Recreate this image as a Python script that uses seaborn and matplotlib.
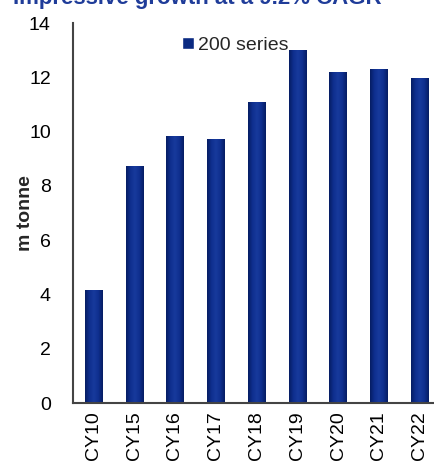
import numpy as np
import pandas as pd
import matplotlib
matplotlib.use("Agg")
import matplotlib.pyplot as plt
import seaborn as sns
from matplotlib.colors import LinearSegmentedColormap

years = ["CY10", "CY15", "CY16", "CY17", "CY18", "CY19", "CY20", "CY21", "CY22"]
volume = [4.15, 8.75, 9.82, 9.72, 11.08, 13.0, 12.18, 12.3, 11.98]
series_name = "200 series"
title_text = "Impressive growth at a 9.2% CAGR"
ylabel_text = "m tonne"
yticks = [0, 2, 4, 6, 8, 10, 12, 14]

sns.set_theme(style="white")
plt.rcParams["font.family"] = ["Liberation Sans", "DejaVu Sans"]

W, H = 434, 468
fig = plt.figure(figsize=(W / 100, H / 100), dpi=100)
ax = fig.add_axes([73 / W, 1 - 403 / H, (440 - 73) / W, (403 - 23) / H])

df = pd.DataFrame({"year": years, "volume": volume, "series": series_name})
navy = "#0B2A82"
sns.barplot(data=df, x="year", y="volume", hue="series", palette=[navy],
            width=0.42, ax=ax, saturation=1, legend=True)

# horizontal shading across each bar: darker edges, lighter centre
cmap = LinearSegmentedColormap.from_list(
    "barshade", ["#061d63", "#0f2f8f", "#173a9c", "#0f2f8f", "#061d63"])
grad = np.linspace(0, 1, 64).reshape(1, -1)
for p in list(ax.patches):
    if p.get_height() <= 0:
        continue
    x0, w, h = p.get_x(), p.get_width(), p.get_height()
    im = ax.imshow(grad, cmap=cmap, aspect="auto",
                   extent=[x0, x0 + w, 0, h], zorder=p.get_zorder() + 0.1)
    im.set_clip_path(p)

fs = 14
ax.set_xlim(-0.5, len(years) - 0.5)
ax.set_ylim(0, 14)
ax.set_yticks(yticks)
ax.set_yticklabels([str(v) for v in yticks], fontsize=fs, color="black")
ax.set_xticks(range(len(years)))
ax.set_xticklabels(years, rotation=90, fontsize=fs, color="black")
ax.set_xticks(np.arange(-0.5, len(years) - 0.4, 1.0), minor=True)
ax.tick_params(axis="x", which="major", length=0, pad=6)
ax.tick_params(axis="x", which="minor", length=5, width=1.3, color="#333333", direction="out")
ax.tick_params(axis="y", length=5, width=1.3, color="#333333", direction="out", pad=11)
ax.set_xlabel("")
ax.set_ylabel(ylabel_text, fontsize=fs, fontweight="bold")
ax.yaxis.set_label_coords((34 - 73) / (440 - 73), 0.5)

for side in ["top", "right"]:
    ax.spines[side].set_visible(False)
for side in ["left", "bottom"]:
    ax.spines[side].set_color("#444444")
    ax.spines[side].set_linewidth(1.5)

leg = ax.legend(loc="upper left", bbox_to_anchor=((182 - 73) / (440 - 73), 1 - (37 - 23) / 380),
                frameon=False, fontsize=fs, handlelength=0.6, handleheight=0.6,
                handletextpad=0.2, borderaxespad=0, borderpad=0)

fig.text(13 / W, 1 - 4 / H, title_text, fontsize=16, fontweight="bold",
         color="#1F3C99", va="baseline", ha="left")

fig.savefig("out.png", dpi=100)
